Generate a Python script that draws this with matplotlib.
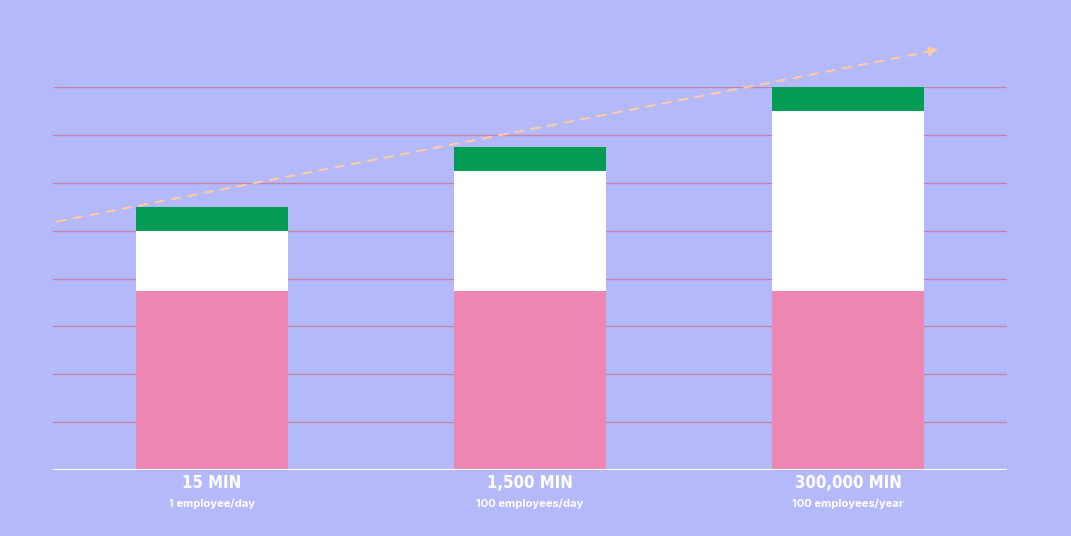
import matplotlib.pyplot as plt
import matplotlib.transforms as mtransforms

minutes = ['15 MIN', '1,500 MIN', '300,000 MIN']
scope = ['1 employee/day', '100 employees/day', '100 employees/year']
base = [3.74, 3.74, 3.74]
middle = [1.25, 2.5, 3.76]
top = [0.5, 0.5, 0.5]
trend_start = (-0.495, 5.18)
trend_end = (2.294, 8.79)

bg = '#b4baf9'
fig = plt.figure(figsize=(10.71, 5.36), dpi=100, facecolor=bg)
ax = fig.add_axes([53 / 1071, 66 / 536, 954 / 1071, 383 / 536])
ax.set_facecolor(bg)

x = range(len(minutes))
for y in range(1, 9):
    ax.axhline(y, color='#c084a8', lw=1.0, zorder=1)
ax.axhline(0, color='white', lw=1.5, zorder=3)

w = 0.48
ax.bar(x, base, width=w, color='#ee86b4', zorder=2)
ax.bar(x, middle, width=w, bottom=base, color='white', zorder=2)
mid_top = [b + m for b, m in zip(base, middle)]
ax.bar(x, top, width=w, bottom=mid_top, color='#039c54', zorder=2)

ax.annotate('', xy=trend_end, xytext=trend_start, annotation_clip=False,
            arrowprops=dict(arrowstyle='-|>', color='#ffc9a6', lw=1.5,
                            linestyle=(0, (4, 4)), mutation_scale=14))

ax.set_xlim(-0.5, 2.5)
ax.set_ylim(0, 8)
ax.axis('off')

trans = mtransforms.blended_transform_factory(ax.transData, fig.transFigure)
for i in x:
    ax.text(i, 1 - 483 / 536, minutes[i], transform=trans, ha='center', va='center',
            color='white', fontsize=12, fontweight='bold',
            family='DejaVu Sans', fontstretch='condensed')
    ax.text(i, 1 - 504 / 536, scope[i], transform=trans, ha='center', va='center',
            color='white', fontsize=8, fontweight='bold', family='Inter')

fig.savefig('out.png', dpi=100, facecolor=bg)
